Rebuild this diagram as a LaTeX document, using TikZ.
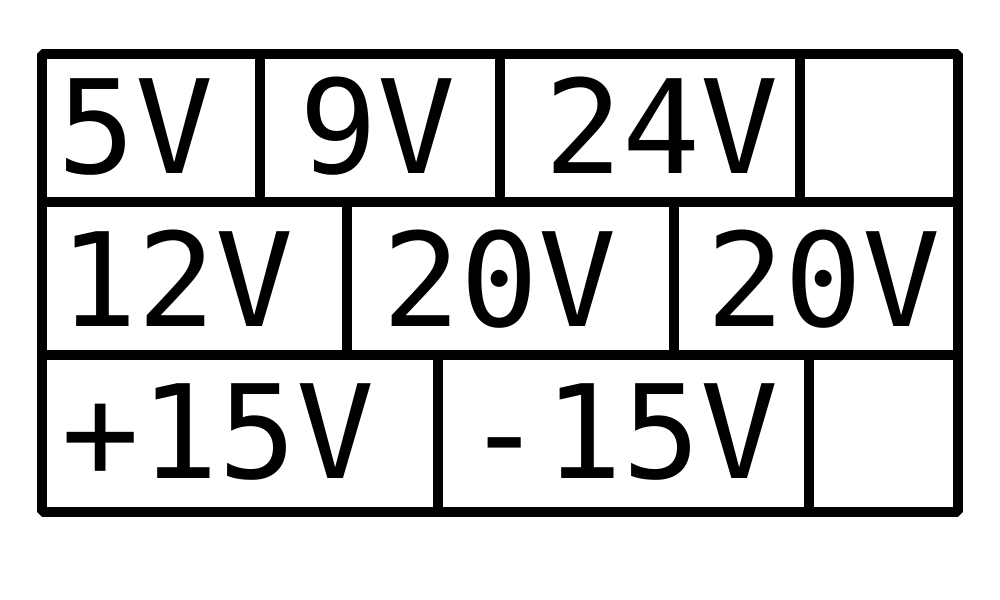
\documentclass[tikz,border=0pt]{standalone}
\usepackage{fontspec}
\setmonofont{DejaVu Sans Mono}
\begin{document}
\begin{tikzpicture}[x=0.01cm,y=-0.01cm,
  grid/.style={line width=0.1cm, line join=bevel, draw=black},
  lbl/.style={inner sep=0pt, outer sep=0pt, anchor=base east, font=\ttfamily\fontsize{36.99pt}{40pt}\selectfont}]
\useasboundingbox (0,0) rectangle (1000,600);
\fill[white] (0,0) rectangle (1000,600);
% outer frame
\draw[grid] (42,54) rectangle (958,512);
% row separators
\draw[grid] (42,202) -- (958,202);
\draw[grid] (42,355) -- (958,355);
% row 1 dividers
\draw[grid] (260,54) -- (260,202);
\draw[grid] (500,54) -- (500,202);
\draw[grid] (800,54) -- (800,202);
% row 2 dividers
\draw[grid] (347,202) -- (347,355);
\draw[grid] (674,202) -- (674,355);
% row 3 dividers
\draw[grid] (438,355) -- (438,512);
\draw[grid] (809,355) -- (809,512);
% labels
\node[lbl] (v5) at (214,173) {5V};
\node[lbl] (v9) at (456,173) {9V};
\node[lbl] (v24) at (779,173) {24V};
\node[lbl] (v12) at (294,326) {12V};
\node[lbl] (v20a) at (617,326) {20V};
\node[lbl] (v20b) at (941,326) {20V};
\node[lbl] (vp15) at (375,478) {+15V};
\node[lbl] (vm15) at (779,478) {-15V};
\end{tikzpicture}
\end{document}
